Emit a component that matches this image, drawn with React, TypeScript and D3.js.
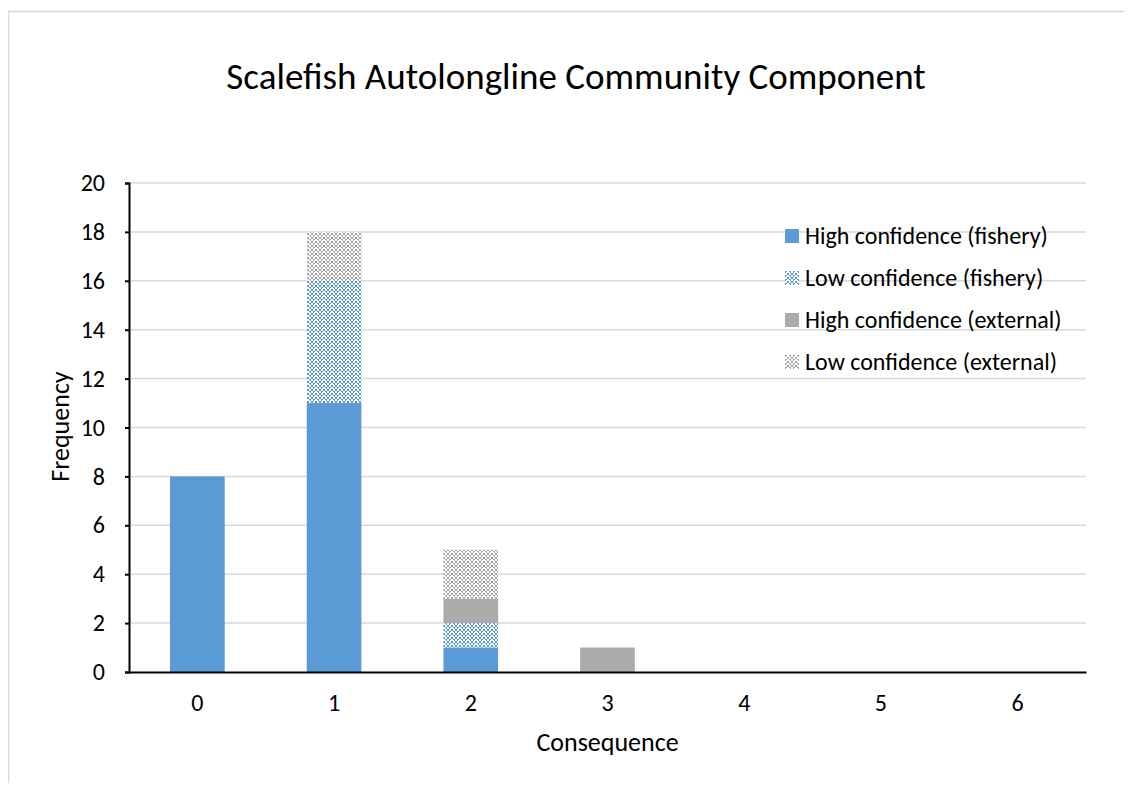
import { useRef, useEffect } from "react";
import * as d3 from "d3";

// Chart data
const categories = ["0", "1", "2", "3", "4", "5", "6"];
const highFishery = [8, 11, 1, 0, 0, 0, 0];
const lowFishery = [0, 5, 1, 0, 0, 0, 0];
const highExternal = [0, 0, 1, 1, 0, 0, 0];
const lowExternal = [0, 2, 2, 0, 0, 0, 0];
const seriesNames = [
  "High confidence (fishery)",
  "Low confidence (fishery)",
  "High confidence (external)",
  "Low confidence (external)",
];
const yTicks = [0, 2, 4, 6, 8, 10, 12, 14, 16, 18, 20];

const FONT = "Carlito, Calibri, 'Noto Sans', sans-serif";

// 8x8 tile used for the "low confidence" hatched fills
const tile = [
  "11001100",
  "10000100",
  "00110011",
  "00110011",
  "11001100",
  "10000100",
  "00110011",
  "00110011",
];

export default function App() {
  const svgRef = useRef<SVGSVGElement>(null);

  useEffect(() => {
    if (!svgRef.current) return;
    const width = 1132;
    const height = 791;
    const margin = { top: 183, right: 46, bottom: 119, left: 129 };
    const innerWidth = width - margin.left - margin.right;
    const innerHeight = height - margin.top - margin.bottom;

    const root = d3.select(svgRef.current);
    root.selectAll("*").remove();
    root.attr("width", width).attr("height", height);

    // Patterns
    const defs = root.append("defs");
    const makePattern = (id: string, color: string) => {
      const p = defs.append("pattern")
        .attr("id", id)
        .attr("patternUnits", "userSpaceOnUse")
        .attr("width", 8)
        .attr("height", 8);
      p.append("rect").attr("width", 8).attr("height", 8).attr("fill", "white");
      tile.forEach((row, r) => {
        row.split("").forEach((c, col) => {
          if (c === "1") {
            p.append("rect").attr("x", col).attr("y", r).attr("width", 1).attr("height", 1).attr("fill", color);
          }
        });
      });
    };
    makePattern("patBlue", "#5B9BD5");
    makePattern("patGray", "#A5A5A5");

    const fills = ["#5B9BD5", "url(#patBlue)", "#ADAAAA", "url(#patGray)"];

    // Outer chart border
    root.append("rect")
      .attr("x", 8.5).attr("y", 11.5)
      .attr("width", width).attr("height", height)
      .attr("fill", "white")
      .attr("stroke", "#d9d9d9")
      .attr("stroke-width", 1.5);

    // Title
    root.append("text")
      .attr("x", 576).attr("y", 89)
      .attr("text-anchor", "middle")
      .style("font-family", FONT)
      .style("font-size", "37px")
      .style("fill", "#000")
      .text("Scalefish Autolongline Community Component");

    const svg = root.append("g").attr("transform", `translate(${margin.left},${margin.top})`);

    const x = d3.scaleBand().domain(categories).range([0, innerWidth]).paddingInner(0.6).paddingOuter(0.3);
    const y = d3.scaleLinear().domain([0, 20]).range([innerHeight, 0]);

    // Gridlines
    svg.append("g")
      .selectAll("line")
      .data(yTicks.filter(t => t > 0))
      .join("line")
      .attr("x1", 0).attr("x2", innerWidth)
      .attr("y1", d => y(d)).attr("y2", d => y(d))
      .attr("stroke", "#d9d9d9")
      .attr("stroke-width", 1.5);

    // Stacked bars
    const rows = categories.map((c, i) => ({
      cat: c,
      s0: highFishery[i], s1: lowFishery[i], s2: highExternal[i], s3: lowExternal[i],
    }));
    const stack = d3.stack<any>().keys(["s0", "s1", "s2", "s3"]);
    const layers = stack(rows);
    layers.forEach((layer, li) => {
      svg.append("g")
        .selectAll("rect")
        .data(layer.filter(d => d[1] - d[0] > 0))
        .join("rect")
        .attr("x", d => x(d.data.cat)!)
        .attr("width", x.bandwidth())
        .attr("y", d => y(d[1]))
        .attr("height", d => y(d[0]) - y(d[1]))
        .attr("fill", fills[li]);
    });

    // Y axis
    const yAxis = svg.append("g").call(
      d3.axisLeft(y).tickValues(yTicks).tickSize(4).tickSizeOuter(4)
    );
    yAxis.select(".domain").attr("stroke", "#000").attr("stroke-width", 2);
    yAxis.selectAll(".tick line").attr("stroke", "#000").attr("stroke-width", 2);
    yAxis.selectAll(".tick text")
      .attr("x", -24)
      .style("font-family", FONT)
      .style("font-size", "24px")
      .style("fill", "#000");

    // X axis
    const xAxis = svg.append("g")
      .attr("transform", `translate(0,${innerHeight})`)
      .call(d3.axisBottom(x).tickSize(0).tickSizeOuter(0));
    xAxis.select(".domain").attr("stroke", "#000").attr("stroke-width", 2);
    xAxis.selectAll(".tick text")
      .attr("y", 22)
      .style("font-family", FONT)
      .style("font-size", "24px")
      .style("fill", "#000");

    // Axis labels
    svg.append("text")
      .attr("x", innerWidth / 2)
      .attr("y", innerHeight + 79)
      .attr("text-anchor", "middle")
      .style("font-family", FONT)
      .style("font-size", "26px")
      .style("fill", "#000")
      .text("Consequence");

    svg.append("text")
      .attr("transform", "rotate(-90)")
      .attr("x", -innerHeight / 2 + 1)
      .attr("y", -60)
      .attr("text-anchor", "middle")
      .style("font-family", FONT)
      .style("font-size", "26px")
      .style("fill", "#000")
      .text("Frequency");

    // Legend
    const legend = root.append("g").attr("transform", "translate(785, 229)");
    seriesNames.forEach((name, i) => {
      const g = legend.append("g").attr("transform", `translate(0, ${i * 42})`);
      g.append("rect").attr("width", 14).attr("height", 14).attr("fill", fills[i]);
      g.append("text")
        .attr("x", 20).attr("y", 15)
        .style("font-family", FONT)
        .style("font-size", "24px")
        .style("fill", "#000")
        .text(name);
    });
  }, []);

  return (
    <div style={{ margin: -8, width: 1132, height: 791, overflow: "hidden", background: "white" }}>
      <svg ref={svgRef} style={{ display: "block" }} />
    </div>
  );
}
